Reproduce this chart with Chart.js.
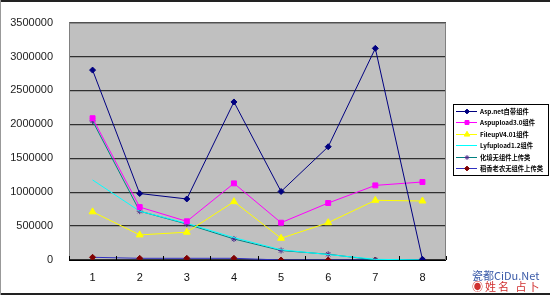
<!DOCTYPE html>
<html>
<head>
<meta charset="utf-8">
<script src="https://cdn.jsdelivr.net/npm/chart.js@4.4.1/dist/chart.umd.min.js"></script>
<style>
  html, body { margin: 0; padding: 0; background: #fff; }
  #wrap { position: relative; width: 550px; height: 295px; overflow: hidden; }
  #chart { position: absolute; left: 0; top: 0; }
  .edge { position: absolute; background: #222; }
  #mark { position: absolute; right: 2px; bottom: 3px; width: 76px; font-family: "Noto Sans CJK SC", "DejaVu Sans", sans-serif; line-height: 11px; }
  #mark .a { color: #3a5aa8; font-size: 11px; }
  #mark .b { color: #d03030; font-size: 11px; letter-spacing: 2px; }
</style>
</head>
<body>
<div id="wrap">
  <canvas id="chart" width="550" height="295"></canvas>
  <div class="edge" style="left:0;top:0;width:550px;height:2px"></div>
  <div class="edge" style="left:0;bottom:0;width:550px;height:2px"></div>
  <div class="edge" style="left:0;top:0;width:1px;height:295px;background:#999"></div>
  <div id="mark"><div class="a">瓷都CiDu.Net</div><div class="b">◉姓名 占卜</div></div>
</div>
<script>
// categories and series values
const categories = ['1', '2', '3', '4', '5', '6', '7', '8'];
const seriesNames = [
    'Asp.net自带组件',
    'Aspupload3.0组件',
    'FileupV4.01组件',
    'Lyfupload1.2组件',
    '化境无组件上传类',
    '稻香老农无组件上传类'
];
const aspNet      = [2800000, 980000, 900000, 2330000, 1010000, 1670000, 3120000, 10000];
const aspUpload   = [2090000, 780000, 570000, 1130000, 550000, 840000, 1100000, 1150000];
const fileUp      = [710000, 370000, 410000, 860000, 320000, 550000, 880000, 870000];
const lyfUpload   = [1180000, 720000, 540000, 330000, 150000, 80000, 10000, 0];
const huajing     = [2050000, 720000, 530000, 310000, 140000, 85000, 0, 0];
const daoxiang    = [40000, 25000, 25000, 25000, 0, 0, 0, 0];
const yTicks      = { min: 0, max: 3500000, step: 500000 };

const FONT = '"Liberation Sans", Arial, sans-serif';

function makeSet(label, data, line, marker, style, radius) {
    return {
        label: label,
        data: data,
        borderColor: line,
        backgroundColor: marker,
        pointBorderColor: marker,
        pointBackgroundColor: marker,
        pointStyle: style,
        pointRadius: radius,
        pointBorderWidth: 1,
        borderWidth: 1,
        tension: 0,
        fill: false
    };
}

const datasets = [
    makeSet(seriesNames[0], aspNet, '#000080', '#000080', 'rectRot', 3),
    makeSet(seriesNames[1], aspUpload, '#ff00ff', '#ff00ff', 'rect', 3.5),
    makeSet(seriesNames[2], fileUp, '#ffff00', '#ffff00', 'triangle', 4),
    makeSet(seriesNames[3], lyfUpload, '#00ffff', '#00ffff', 'circle', 0),
    makeSet(seriesNames[4], huajing, '#008080', '#4b2a8a', 'star', 3),
    makeSet(seriesNames[5], daoxiang, '#3030c0', '#800000', 'rectRot', 3)
];

// gray plot area like the old Excel chart
const plotBackground = {
    id: 'plotBackground',
    beforeDraw(chart) {
        const { ctx, chartArea: a } = chart;
        ctx.save();
        ctx.fillStyle = '#c0c0c0';
        ctx.fillRect(a.left, a.top, a.right - a.left, a.bottom - a.top);
        ctx.restore();
    },
    afterDatasetsDraw(chart) {
        const { ctx, chartArea: a } = chart;
        ctx.save();
        ctx.strokeStyle = '#808080';
        ctx.lineWidth = 1;
        ctx.strokeRect(a.left + 0.5, a.top + 0.5, a.right - a.left - 1, a.bottom - a.top);
        // category tick marks on the bottom axis
        const x = chart.scales.x;
        ctx.strokeStyle = '#000';
        ctx.beginPath();
        for (let i = 0; i <= categories.length; i++) {
            const px = Math.round(x.left + (x.right - x.left) * i / categories.length) + 0.5;
            ctx.moveTo(px, a.bottom);
            ctx.lineTo(px, a.bottom - 4);
        }
        ctx.moveTo(a.left, a.bottom + 0.5);
        ctx.lineTo(a.right, a.bottom + 0.5);
        ctx.stroke();
        ctx.restore();
    }
};

// boxed legend with line + marker samples
const boxLegend = {
    id: 'boxLegend',
    afterDraw(chart) {
        const ctx = chart.ctx;
        const bx = 453, by = 104, bw = 95, bh = 71, rowH = 11.4;
        ctx.save();
        ctx.fillStyle = '#fff';
        ctx.fillRect(bx, by, bw, bh);
        ctx.strokeStyle = '#000';
        ctx.lineWidth = 1;
        ctx.strokeRect(bx + 0.5, by + 0.5, bw, bh);
        chart.data.datasets.forEach((ds, i) => {
            const y = Math.round(by + 7 + i * rowH) + 0.5;
            ctx.strokeStyle = ds.borderColor;
            ctx.lineWidth = 1;
            ctx.beginPath();
            ctx.moveTo(bx + 3, y);
            ctx.lineTo(bx + 24, y);
            ctx.stroke();
            if (ds.pointRadius > 0) {
                ctx.fillStyle = ds.pointBackgroundColor;
                ctx.strokeStyle = ds.pointBorderColor;
                Chart.helpers.drawPoint(ctx, {
                    pointStyle: ds.pointStyle,
                    radius: ds.pointRadius * 0.8,
                    borderWidth: 1,
                    rotation: 0
                }, bx + 14, y);
            }
            ctx.fillStyle = '#000';
            ctx.font = 'bold 6.3px "Noto Sans CJK SC", ' + FONT;
            ctx.textBaseline = 'middle';
            ctx.textAlign = 'left';
            ctx.fillText(ds.label, bx + 27, y);
        });
        ctx.restore();
    }
};

new Chart(document.getElementById('chart').getContext('2d'), {
    type: 'line',
    data: { labels: categories, datasets: datasets },
    options: {
        responsive: false,
        animation: false,
        layout: { padding: { left: 0, top: 17, right: 104, bottom: 0 } },
        plugins: {
            legend: { display: false },
            tooltip: { enabled: false }
        },
        scales: {
            x: {
                type: 'category',
                offset: true,
                grid: { display: false, drawTicks: false },
                border: { display: false },
                ticks: { color: '#111', font: { family: FONT, size: 11 }, padding: 11, maxRotation: 0 },
                afterFit(scale) { scale.height = 35; }
            },
            y: {
                min: yTicks.min,
                max: yTicks.max,
                ticks: {
                    stepSize: yTicks.step,
                    color: '#222',
                    font: { family: FONT, size: 11 },
                    padding: 16,
                    callback: v => String(v)
                },
                grid: { color: '#303030', lineWidth: 1.2, drawTicks: false },
                border: { display: true, color: '#606060' },
                afterFit(scale) { scale.width = 69; }
            }
        }
    },
    plugins: [plotBackground, boxLegend]
});
</script>
</body>
</html>
